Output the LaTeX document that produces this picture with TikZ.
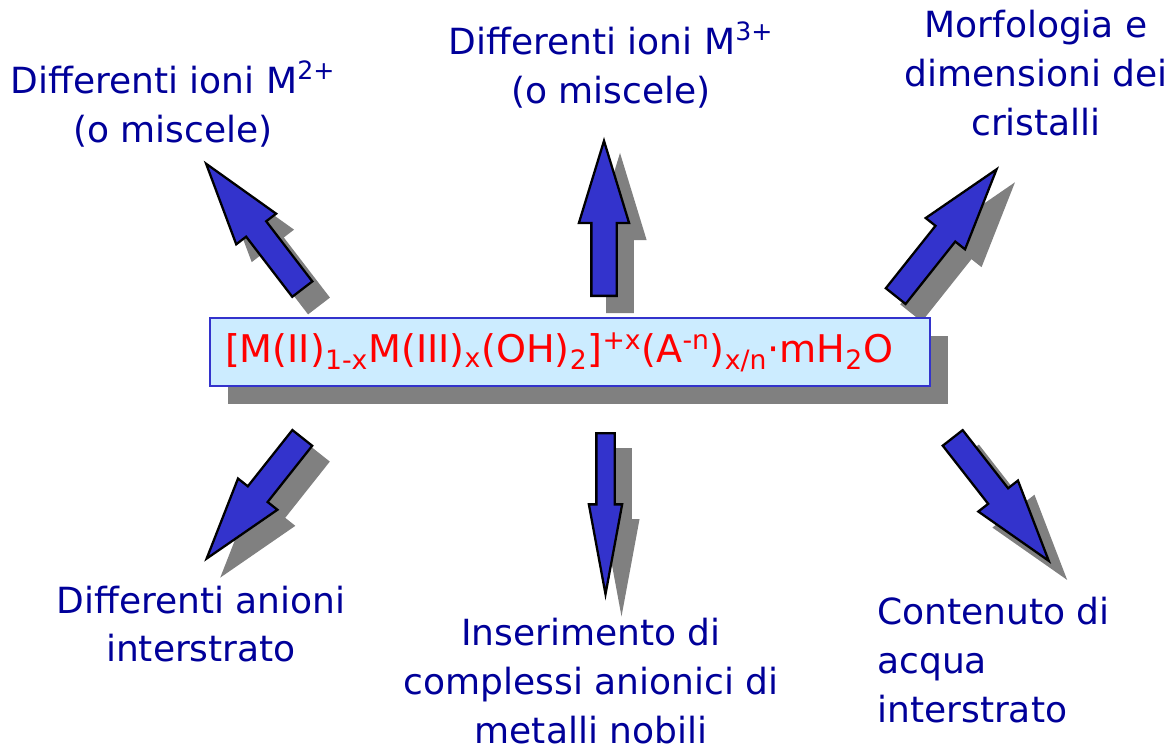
\documentclass[tikz,border=0pt]{standalone}
\usepackage{fontspec}
\setmainfont{DejaVu Sans}
\usetikzlibrary{shapes.arrows,shadows}
\definecolor{LabelBlue}{HTML}{000099}
\definecolor{ArrowBlue}{HTML}{3333CC}
\definecolor{ShadeGray}{HTML}{808080}
\definecolor{BoxFill}{HTML}{CCECFF}
\definecolor{FormulaRed}{HTML}{FF0000}
\newcommand{\notefont}{\fontsize{20.5pt}{27.8pt}\selectfont}
\newcommand{\formulafont}{\fontsize{21.7pt}{26pt}\selectfont}
\tikzset{
  notetext/.style={text=LabelBlue, font=\notefont, align=center, inner sep=0pt},
  fatarrow/.style={single arrow, draw=black, fill=ArrowBlue, line width=1.3pt, inner xsep=0pt, inner ysep=0.23cm, single arrow tip angle=34, single arrow head extend=0.25cm, anchor=tail},
  thinarrow/.style={single arrow, draw=black, fill=ArrowBlue, line width=1.3pt, inner xsep=0pt, inner ysep=0.16cm, single arrow tip angle=21, single arrow head extend=0.15cm, anchor=tail},
  arrowshade/.style={draw=ShadeGray, fill=ShadeGray},
  formulabox/.style={draw=ArrowBlue, fill=BoxFill, line width=1.1pt, text=FormulaRed, font=\formulafont, text width=13.8cm, align=left, inner xsep=0.3cm, inner ysep=0pt, minimum height=1.36cm, drop shadow={shadow xshift=0.36cm, shadow yshift=-0.36cm, fill=ShadeGray, opacity=1}}
}

\begin{document}
\begin{tikzpicture}[x=0.02cm, y=-0.02cm]
\useasboundingbox (0,0) rectangle (1176,751);
% block arrows, each with its grey shadow (placed by their tail)
\foreach \nm/\tx/\ty/\ang/\len/\kind in {arrUL/303/290/127.5/158/fatarrow, arrUp/604/297/90/155/fatarrow, arrUR/895/297/51.5/162/fatarrow, arrLL/303/437/-128.4/154/fatarrow, arrDown/605.5/432/-90/161/thinarrow, arrLR/952/437/-52/156/fatarrow}{
  \node[\kind, arrowshade, rotate=\ang, minimum height=\len*0.02cm] at (\tx+16,\ty+16) {};
  \node[\kind, rotate=\ang, minimum height=\len*0.02cm] (\nm) at (\tx,\ty) {};
}
% central formula
\node[formulabox] (formula) at (570,352) {[M(II)\textsubscript{1-x}M(III)\textsubscript{x}(OH)\textsubscript{2}]\textsuperscript{+x}(A\textsuperscript{-n})\textsubscript{x/n}·mH\textsubscript{2}O};
% labels
\node[notetext] (ionsMii) at (173,104) {Differenti ioni M\textsuperscript{2+}\\(o miscele)};
\node[notetext] (ionsMiii) at (611,65) {Differenti ioni M\textsuperscript{3+}\\(o miscele)};
\node[notetext] (morph) at (1036,73) {Morfologia e\\dimensioni dei\\cristalli};
\node[notetext] (anions) at (201,624) {Differenti anioni\\interstrato};
\node[notetext] (complexes) at (591,681) {Inserimento di\\complessi anionici di\\metalli nobili};
\node[notetext, anchor=west, align=left] (water) at (877,660) {Contenuto di\\acqua\\interstrato};
\end{tikzpicture}
\end{document}
